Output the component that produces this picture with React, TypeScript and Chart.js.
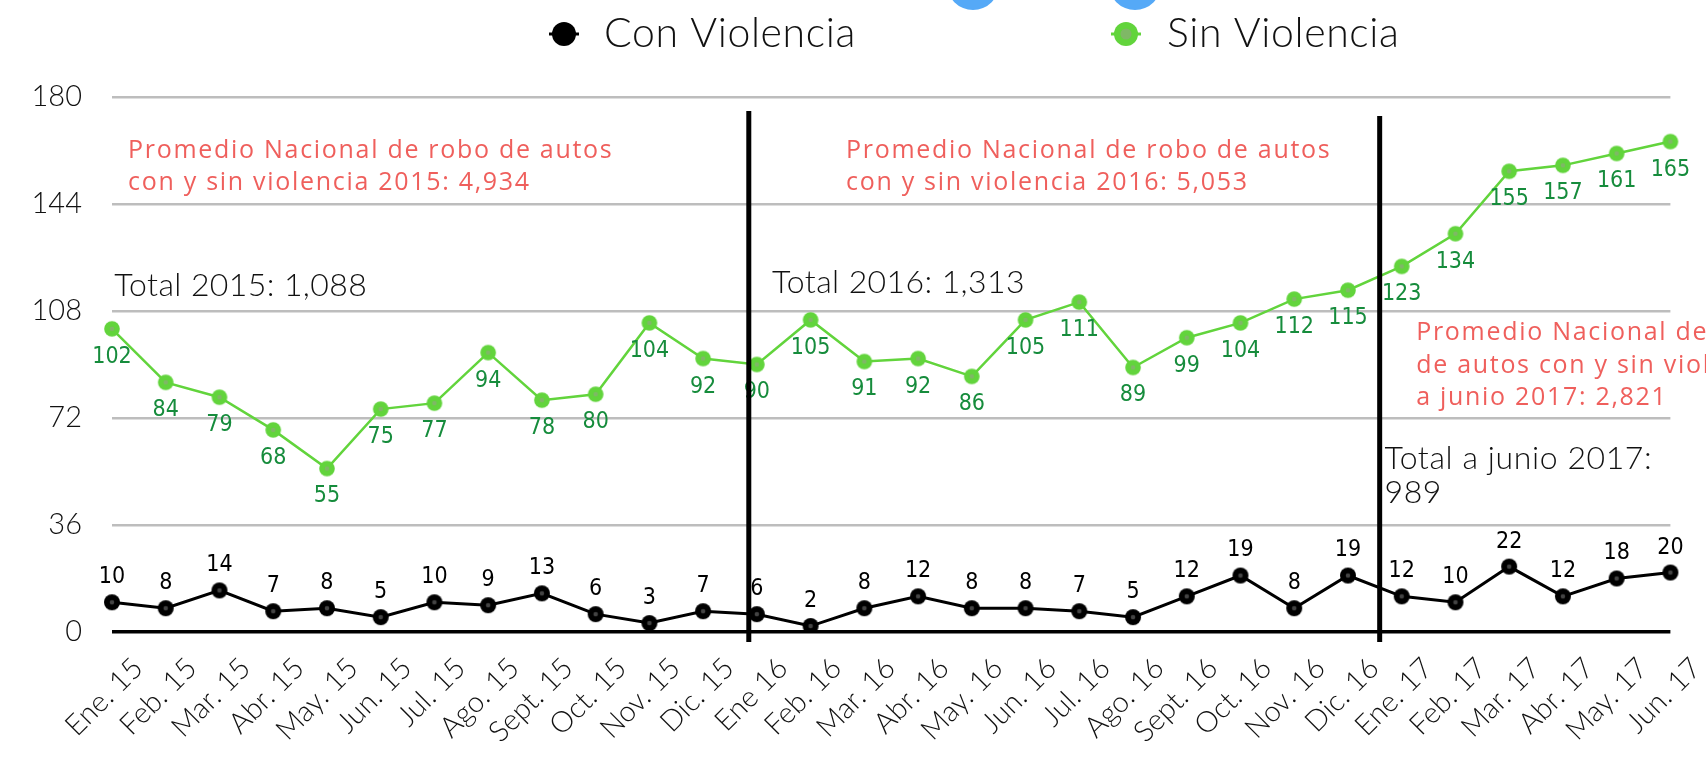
import React, { useEffect, useRef } from "react";
import { Chart, registerables } from "chart.js";

Chart.register(...registerables);

// ---------- data ----------
const months = [
  "Ene. 15", "Feb. 15", "Mar. 15", "Abr. 15", "May. 15", "Jun. 15", "Jul. 15", "Ago. 15", "Sept. 15", "Oct. 15", "Nov. 15", "Dic. 15",
  "Ene 16", "Feb. 16", "Mar. 16", "Abr. 16", "May. 16", "Jun. 16", "Jul. 16", "Ago. 16", "Sept. 16", "Oct. 16", "Nov. 16", "Dic. 16",
  "Ene. 17", "Feb. 17", "Mar. 17", "Abr. 17", "May. 17", "Jun. 17",
];
const conViolencia = [10, 8, 14, 7, 8, 5, 10, 9, 13, 6, 3, 7, 6, 2, 8, 12, 8, 8, 7, 5, 12, 19, 8, 19, 12, 10, 22, 12, 18, 20];
const sinViolencia = [102, 84, 79, 68, 55, 75, 77, 94, 78, 80, 104, 92, 90, 105, 91, 92, 86, 105, 111, 89, 99, 104, 112, 115, 123, 134, 155, 157, 161, 165];
const yTicks = [0, 36, 72, 108, 144, 180];
const seriesNames = ["Con Violencia", "Sin Violencia"];
const promedio2015 = ["Promedio Nacional de robo de autos", "con y sin violencia 2015: 4,934"];
const promedio2016 = ["Promedio Nacional de robo de autos", "con y sin violencia 2016: 5,053"];
const promedio2017 = ["Promedio Nacional de robo", "de autos con y sin violencia", "a junio 2017: 2,821"];
const total2015 = ["Total 2015: 1,088"];
const total2016 = ["Total 2016: 1,313"];
const total2017 = ["Total a junio 2017:", "989"];

// ---------- styles ----------
const GREEN = "#62d43c";
const GREEN_LABEL = "#168c3c";
const RED = "#ef5f5c";
const LIGHT_FONT = "Lato, 'Open Sans', sans-serif";
const LABEL_FONT = "'Liberation Sans Narrow', 'DejaVu Sans Condensed', sans-serif";

function makeDot(r: number, fill: string, innerR: number, innerFill: string) {
  const c = document.createElement("canvas");
  const s = Math.ceil(r * 2 + 2);
  c.width = s;
  c.height = s;
  const g = c.getContext("2d")!;
  g.fillStyle = fill;
  g.beginPath();
  g.arc(s / 2, s / 2, r, 0, Math.PI * 2);
  g.fill();
  g.fillStyle = innerFill;
  g.beginPath();
  g.arc(s / 2, s / 2, innerR, 0, Math.PI * 2);
  g.fill();
  return c;
}

export default function App() {
  const ref = useRef<HTMLCanvasElement>(null);

  useEffect(() => {
    const canvas = ref.current!;
    const greenDot = makeDot(7.8, GREEN, 2.3, "#7fb866");
    const blackDot = makeDot(8, "#000", 2.3, "#444");

    const valueLabels = {
      id: "valueLabels",
      afterDatasetsDraw(chart: any) {
        const ctx = chart.ctx;
        ctx.save();
        ctx.font = `23px ${LABEL_FONT}`;
        ctx.textAlign = "center";
        ctx.textBaseline = "middle";
        chart.data.datasets.forEach((ds: any, di: number) => {
          const meta = chart.getDatasetMeta(di);
          meta.data.forEach((el: any, i: number) => {
            const v = ds.data[i];
            if (di === 0) {
              ctx.fillStyle = "#000";
              ctx.fillText(String(v), el.x, el.y - 25);
            } else {
              ctx.fillStyle = GREEN_LABEL;
              ctx.fillText(String(v), el.x, el.y + 28);
            }
          });
        });
        ctx.restore();
      },
    };

    const overlay = {
      id: "overlay",
      afterDraw(chart: any) {
        const ctx = chart.ctx;
        const xs = chart.scales.x;
        const ys = chart.scales.y;
        const area = chart.chartArea;
        ctx.save();

        // year dividers
        ctx.strokeStyle = "#000";
        ctx.lineWidth = 5;
        const dividers = [
          { at: 11.85, top: 175.3 },
          { at: 23.59, top: 173.6 },
        ];
        dividers.forEach((d) => {
          const x = xs.getPixelForValue(d.at);
          ctx.beginPath();
          ctx.moveTo(x, ys.getPixelForValue(d.top));
          ctx.lineTo(x, area.bottom + 10);
          ctx.stroke();
        });

        const block = (lines: string[], xi: number, yv: number, step: number, font: string, color: string, spacing: string) => {
          ctx.font = font;
          ctx.fillStyle = color;
          ctx.textAlign = "left";
          ctx.textBaseline = "middle";
          (ctx as any).letterSpacing = spacing;
          const x = xs.getPixelForValue(xi);
          const y = ys.getPixelForValue(yv);
          lines.forEach((t, i) => ctx.fillText(t, x, y + i * step));
          (ctx as any).letterSpacing = "0px";
        };
        const redFont = `25px 'Open Sans', sans-serif`;
        block(promedio2015, 0.3, 161.8, 32, redFont, RED, "1.7px");
        block(promedio2016, 13.66, 161.8, 32, redFont, RED, "1.7px");
        block(promedio2017, 24.27, 100.6, 32.5, redFont, RED, "1.7px");
        const totFont = `300 32px ${LIGHT_FONT}`;
        block(total2015, 0.04, 116.4, 34, totFont, "#111", "0.4px");
        block(total2016, 12.28, 117.4, 34, totFont, "#111", "0.4px");
        block(total2017, 23.68, 58.3, 34, totFont, "#111", "0.6px");

        // legend
        const legend = [
          { cx: 564, text: 604, color: "#000", inner: "#000" },
          { cx: 1126, text: 1167, color: GREEN, inner: "#7fb866" },
        ];
        const ly = 34;
        legend.forEach((l, i) => {
          ctx.strokeStyle = l.color;
          ctx.lineWidth = 3;
          ctx.beginPath();
          ctx.moveTo(l.cx - 15, ly);
          ctx.lineTo(l.cx + 15, ly);
          ctx.stroke();
          ctx.fillStyle = l.color;
          ctx.beginPath();
          ctx.arc(l.cx, ly, 12, 0, Math.PI * 2);
          ctx.fill();
          ctx.fillStyle = l.inner;
          ctx.beginPath();
          ctx.arc(l.cx, ly, 5.5, 0, Math.PI * 2);
          ctx.fill();
          ctx.font = `300 41px ${LIGHT_FONT}`;
          (ctx as any).letterSpacing = "0.6px";
          ctx.fillStyle = "#111";
          ctx.textAlign = "left";
          ctx.textBaseline = "middle";
          ctx.fillText(chart.data.datasets[i].label, l.text, ly);
          (ctx as any).letterSpacing = "0px";
        });
        // partially visible markers above the legend
        ctx.fillStyle = "#55a9f7";
        [973, 1135].forEach((cx) => {
          ctx.beginPath();
          ctx.arc(cx, -16, 26, 0, Math.PI * 2);
          ctx.fill();
        });
        ctx.restore();
      },
    };

    const chart = new Chart(canvas, {
      type: "line",
      data: {
        labels: months,
        datasets: [
          {
            label: seriesNames[0],
            data: conViolencia,
            borderColor: "#000",
            backgroundColor: "#000",
            borderWidth: 3,
            pointStyle: blackDot as any,
            pointRadius: 8,
            tension: 0,
          },
          {
            label: seriesNames[1],
            data: sinViolencia,
            borderColor: GREEN,
            backgroundColor: GREEN,
            borderWidth: 2.5,
            pointStyle: greenDot as any,
            pointRadius: 8,
            tension: 0,
          },
        ],
      },
      options: {
        responsive: false,
        animation: false,
        devicePixelRatio: 1,
        layout: { padding: { top: 97, right: 35, left: 0, bottom: 0 } },
        plugins: {
          legend: { display: false },
          tooltip: { enabled: false },
        },
        scales: {
          x: {
            type: "category",
            offset: false,
            grid: { display: false },
            border: { display: false },
            ticks: {
              autoSkip: false,
              maxRotation: 45,
              minRotation: 45,
              padding: 11,
              labelOffset: 26,
              color: "#111",
              font: { family: LIGHT_FONT, size: 29, weight: "300" as any },
            },
            afterFit: (s: any) => {
              s.height = 129;
            },
          },
          y: {
            min: yTicks[0],
            max: yTicks[yTicks.length - 1],
            afterBuildTicks: (s: any) => {
              s.ticks = yTicks.map((v) => ({ value: v }));
            },
            ticks: {
              padding: 30,
              color: "#111",
              font: { family: LIGHT_FONT, size: 29, weight: "300" as any },
            },
            grid: {
              drawTicks: false,
              color: (c: any) => (c.tick && c.tick.value === 0 ? "#000" : "#bdbdbd"),
              lineWidth: (c: any) => (c.tick && c.tick.value === 0 ? 3.5 : 2.5),
            },
            border: { display: false },
            afterFit: (s: any) => {
              s.width = 112;
            },
          },
        },
      },
      plugins: [valueLabels, overlay],
    });
    return () => chart.destroy();
  }, []);

  return (
    <div style={{ position: "fixed", left: 0, top: 0, width: 1706, height: 761, overflow: "hidden", background: "#fff" }}>
      <canvas ref={ref} width={1706} height={761} style={{ display: "block", width: 1706, height: 761 }} />
    </div>
  );
}
